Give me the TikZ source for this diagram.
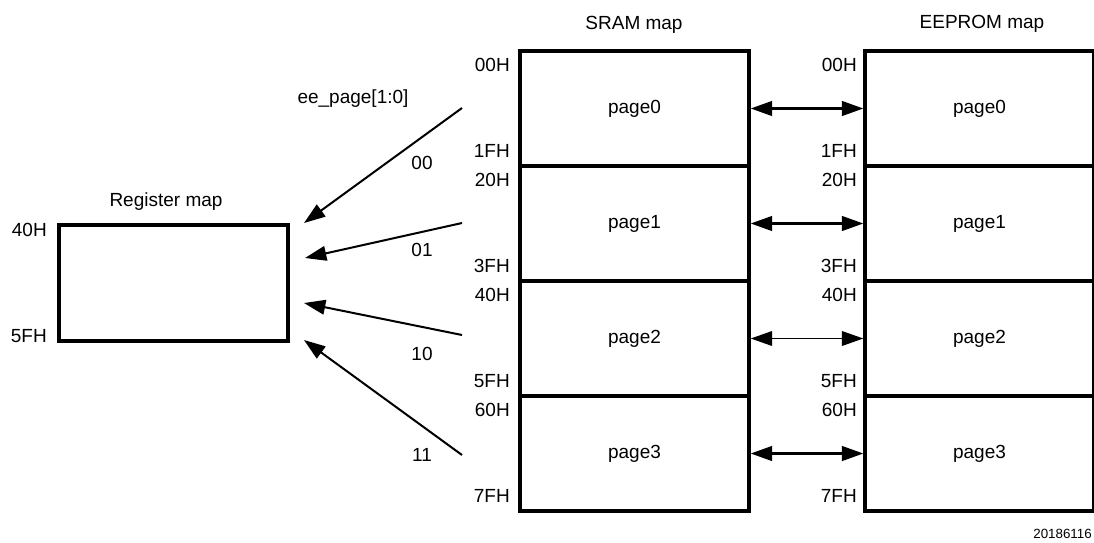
\documentclass[tikz,border=0pt]{standalone}
\usepackage{fontspec}
\setmainfont{Liberation Sans}
\usetikzlibrary{arrows.meta}
\begin{document}
\begin{tikzpicture}[x=0.75pt,y=-0.75pt,
  every node/.style={font=\fontsize{14.25}{17}\selectfont},
  mapbox/.style={draw, line width=2.6pt, minimum width=171.75pt, minimum height=86.25pt, inner sep=0pt},
  addr/.style={anchor=base east, inner sep=0pt},
  maptitle/.style={anchor=base, inner sep=0pt},
  link/.style={line width=1.6pt, {Triangle[length=16pt,width=11pt]}-{Triangle[length=16pt,width=11pt]}},
  sel/.style={line width=1.5pt, -{Triangle[length=16pt,width=11pt]}},
]
\useasboundingbox (0,0) rectangle (1094,542);

% Register map
\node[mapbox, minimum height=87pt] (reg) at (173.5,283) {};
\node[maptitle] (regt) at (166,206) {Register map};
\node[addr] (r40) at (47,236) {40H};
\node[addr] (r5f) at (47,342) {5FH};

% SRAM map
\node[maptitle] (sramt) at (634,30) {SRAM map};
\node[mapbox] (s0) at (634.5,108.5) {page0};
\node[mapbox] (s1) at (634.5,223.5) {page1};
\node[mapbox] (s2) at (634.5,338.5) {page2};
\node[mapbox] (s3) at (634.5,453.5) {page3};

% EEPROM map
\node[maptitle] (eet) at (982,29) {EEPROM map};
\node[mapbox] (e0) at (979.5,108.5) {page0};
\node[mapbox] (e1) at (979.5,223.5) {page1};
\node[mapbox] (e2) at (979.5,338.5) {page2};
\node[mapbox] (e3) at (979.5,453.5) {page3};

% address labels
\foreach \t/\b/\a/\z [count=\i from 0] in {71/157/00H/1FH, 186/272/20H/3FH, 301/387/40H/5FH, 416/502/60H/7FH}{
  \node[addr] (sa\i) at (510,\t) {\a};
  \node[addr] (sz\i) at (510,\b) {\z};
  \node[addr] (ea\i) at (857,\t) {\a};
  \node[addr] (ez\i) at (857,\b) {\z};
}

% links SRAM <-> EEPROM
\draw[link] (s0.east) -- (e0.west);
\draw[link] (s1.east) -- (e1.west);
\draw[link, line width=1pt] (s2.east) -- (e2.west);
\draw[link] (s3.east) -- (e3.west);

% page select arrows
\node[maptitle] (eep) at (353,103) {ee\_page[1:0]};
\coordinate (src0) at (462,108);
\coordinate (src1) at (462,223);
\coordinate (src2) at (462,335);
\coordinate (src3) at (462,455);
\coordinate (dst0) at (304,223);
\coordinate (dst1) at (305,258);
\coordinate (dst2) at (304,303);
\coordinate (dst3) at (304,340);
\draw[sel] (src0) -- (dst0);
\draw[sel] (src1) -- (dst1);
\draw[sel] (src2) -- (dst2);
\draw[sel] (src3) -- (dst3);
\node (l00) at (422,163) {00};
\node (l01) at (422,250) {01};
\node (l10) at (422,354) {10};
\node (l11) at (422,455) {11};

% figure number
\node[anchor=base east, inner sep=0pt, font=\fontsize{10}{12}\selectfont] (fig) at (1092,538) {20186116};
\end{tikzpicture}
\end{document}
